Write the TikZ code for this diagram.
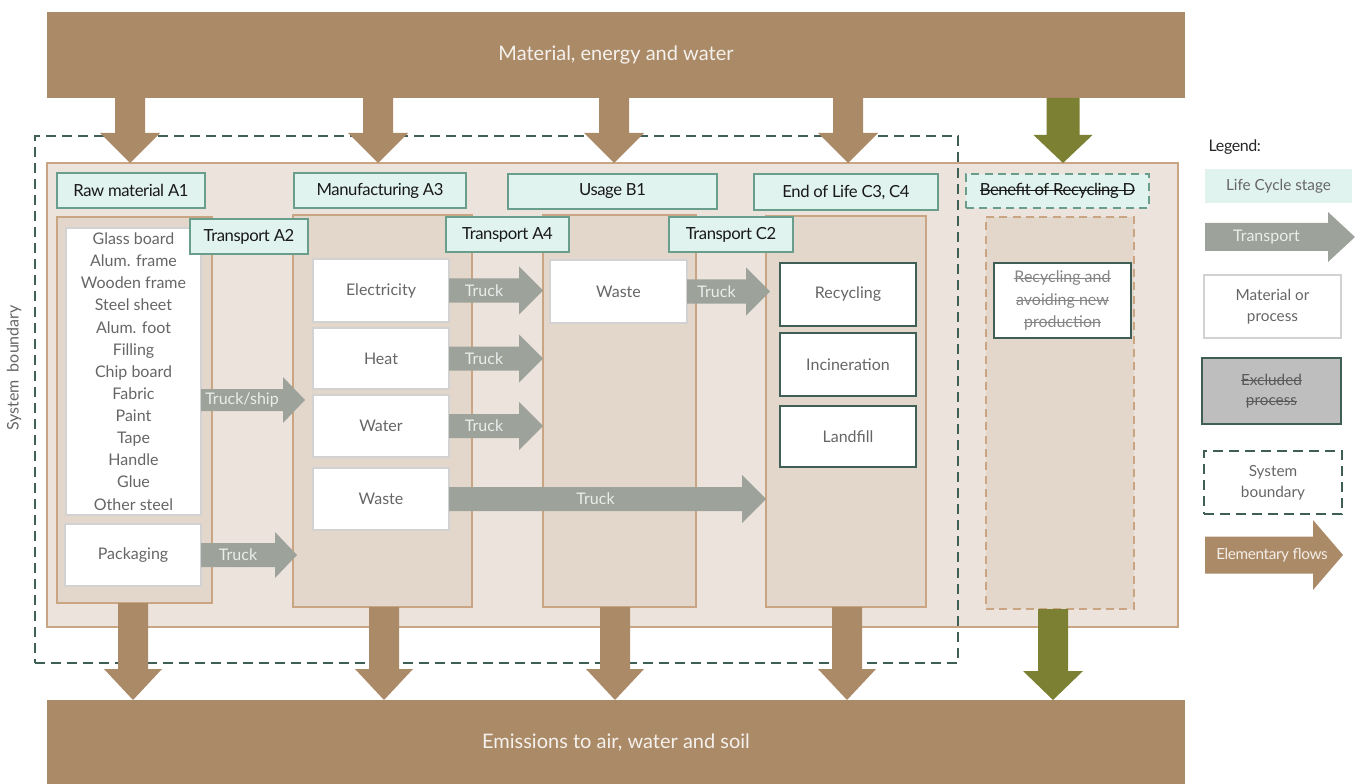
\documentclass[tikz,border=0pt]{standalone}
\usepackage{fontspec}
\setmainfont{Lato}
\newfontfamily\stagefont[LetterSpace=-2.5]{Lato}
\usetikzlibrary{calc}
\newsavebox\strkbox
\newcommand\mystrike[1]{\sbox\strkbox{#1}\rlap{\rule[0.28em]{\wd\strkbox}{0.5pt}}\usebox\strkbox}
\definecolor{brownc}{HTML}{AB8A67}
\definecolor{lightp}{HTML}{ECE3DC}
\definecolor{innerp}{HTML}{E3D7CB}
\definecolor{tanb}{HTML}{C9A583}
\definecolor{stagef}{HTML}{E1F3EE}
\definecolor{stageb}{HTML}{6A9E8C}
\definecolor{grayarr}{HTML}{9DA39B}
\definecolor{olive}{HTML}{7B8032}
\definecolor{darkteal}{HTML}{3F5E55}
\definecolor{textg}{HTML}{666666}
\definecolor{boxb}{HTML}{D2D2D2}
\definecolor{exclf}{HTML}{BEBEBE}
\newcommand\mybox[7]{\node[#6,minimum width={(#4-#2)*0.75pt},minimum height={(#5-#3)*0.75pt},inner sep=0pt,outer sep=0pt] (#1) at ({(#2+#4)/2},{(#3+#5)/2}) {#7};}
% horizontal block arrow: from #1 to #2, shaft half #3, head half #4, head length #5 (px), colour #6, label #7
\newcommand\harr[7]{\fill[#6] let \p1=(#1), \p2=(#2) in
 (\x1,{\y1+#3*0.75pt}) -- ({\x2-#5*0.75pt},{\y1+#3*0.75pt}) -- ({\x2-#5*0.75pt},{\y1+#4*0.75pt}) -- (\x2,\y1)
 -- ({\x2-#5*0.75pt},{\y1-#4*0.75pt}) -- ({\x2-#5*0.75pt},{\y1-#3*0.75pt}) -- (\x1,{\y1-#3*0.75pt}) -- cycle
 node[arrlabel] at ({(\x1+\x2-#5*0.75pt)/2},\y1) {#7};}
% downward block arrow
\newcommand\varr[6]{\fill[#6] let \p1=(#1), \p2=(#2) in
 ({\x1-#3*0.75pt},\y1) -- ({\x1-#3*0.75pt},{\y2+#5*0.75pt}) -- ({\x1-#4*0.75pt},{\y2+#5*0.75pt}) -- (\x1,\y2)
 -- ({\x1+#4*0.75pt},{\y2+#5*0.75pt}) -- ({\x1+#3*0.75pt},{\y2+#5*0.75pt}) -- ({\x1+#3*0.75pt},\y1) -- cycle;}
\begin{document}
\begin{tikzpicture}[x=0.75pt,y=-0.75pt,
  bar/.style={fill=brownc,text=white!88!brownc,font=\fontsize{15}{18}\selectfont},
  panel/.style={fill=innerp,draw=tanb,line width=1.1pt},
  outerpanel/.style={fill=lightp,draw=tanb,line width=1.1pt},
  wbox/.style={fill=white,draw=boxb,line width=1pt,text=textg,align=center,font=\fontsize{12}{16.6}\selectfont},
  ebox/.style={fill=white,draw=darkteal,line width=1.3pt,text=textg,align=center,font=\fontsize{12}{16.6}\selectfont},
  stagebox/.style={fill=stagef,draw=stageb,line width=1.1pt,text=black!90,font=\stagefont\fontsize{12.5}{14}\selectfont},
  arrlabel/.style={text=white!80!grayarr,font=\fontsize{12}{14}\selectfont},
  boundary/.style={draw=darkteal,line width=1.5pt,dash pattern=on 7.5pt off 4.5pt},
  legtext/.style={text=textg,align=center,font=\fontsize{11.5}{15.5}\selectfont}]
\useasboundingbox (0,0) rectangle (1363,784);

% bars
\mybox{topbar}{47}{12}{1185}{98}{bar}{Material, energy and water}
\mybox{botbar}{47}{700}{1185}{784}{bar}{Emissions to air, water and soil}

% background panel and boundary
\mybox{sysp}{47}{163}{1178}{627}{outerpanel}{}
\mybox{bound}{35}{136}{958}{663}{boundary}{}
\node[rotate=90,text=textg,font=\fontsize{12}{14}\selectfont] (sbl) at (14,368) {System\ \ boundary};

% stage panels
\mybox{rawp}{57}{217}{212}{603}{panel}{}
\mybox{manp}{293}{215}{472}{607}{panel}{}
\mybox{usep}{543}{215}{696}{607}{panel}{}
\mybox{eolp}{766}{216}{926}{607}{panel}{}
\mybox{dp}{986}{217}{1134}{609}{panel,dash pattern=on 6pt off 4pt}{}

% material / process boxes
\mybox{list}{66}{228}{201}{515}{wbox}{Glass board\\Alum. frame\\Wooden frame\\Steel sheet\\Alum. foot\\Filling\\Chip board\\Fabric\\Paint\\Tape\\Handle\\Glue\\Other steel}
\mybox{pack}{65}{524}{201}{586}{wbox}{Packaging}
\mybox{elec}{313}{259}{449}{322}{wbox}{Electricity}
\mybox{heat}{313}{328}{449}{389}{wbox}{Heat}
\mybox{water}{313}{395}{449}{457}{wbox}{Water}
\mybox{mwaste}{313}{468}{449}{530}{wbox}{Waste}
\mybox{uwaste}{550}{260}{687}{323}{wbox}{Waste}
\mybox{recyc}{780}{263}{916}{326}{ebox}{Recycling}
\mybox{incin}{780}{333}{916}{396}{ebox}{Incineration}
\mybox{landf}{780}{406}{916}{467}{ebox}{Landfill}
\mybox{drec}{994}{263}{1131}{338}{ebox,text=textg!80}{\mystrike{Recycling and}\\\mystrike{avoiding new}\\\mystrike{production}}

% stage labels
\mybox{sA1}{57}{173}{205}{208}{stagebox}{Raw material A1}
\mybox{sA3}{294}{173}{466}{208}{stagebox}{Manufacturing A3}
\mybox{sB1}{508}{174}{717}{209}{stagebox}{Usage B1}
\mybox{sC}{754}{174}{938}{210}{stagebox}{End of Life C3, C4}
\mybox{sA2}{190}{219}{308}{254}{stagebox}{Transport A2}
\mybox{sA4}{446}{217}{569}{252}{stagebox}{Transport A4}
\mybox{sC2}{669}{217}{793}{252}{stagebox}{Transport C2}
\mybox{sD}{966}{174}{1149}{208}{stagebox,dash pattern=on 6pt off 4pt}{\mystrike{Benefit of Recycling D}}

% elementary flow arrows (top)
\foreach \cx/\nm in {130/t1,378/t2,614/t3,848/t4,1063/t5}{\coordinate (\nm) at (\cx,0);}
\varr{topbar.south -| t1}{sysp.north -| t1}{15}{30}{30}{brownc}
\varr{topbar.south -| t2}{sysp.north -| t2}{15}{30}{30}{brownc}
\varr{topbar.south -| t3}{sysp.north -| t3}{15}{30}{30}{brownc}
\varr{topbar.south -| t4}{sysp.north -| t4}{15}{30}{30}{brownc}
\varr{topbar.south -| t5}{sysp.north -| t5}{16.5}{29.5}{28}{olive}

% elementary flow arrows (bottom)
\foreach \cx/\nm in {133/b1,384/b2,615/b3,847/b4,1053/b5}{\coordinate (\nm) at (\cx,0);}
\varr{rawp.south -| b1}{botbar.north -| b1}{15}{29}{31}{brownc}
\varr{manp.south -| b2}{botbar.north -| b2}{15}{29}{31}{brownc}
\varr{usep.south -| b3}{botbar.north -| b3}{15}{29}{31}{brownc}
\varr{eolp.south -| b4}{botbar.north -| b4}{15}{29}{31}{brownc}
\varr{dp.south -| b5}{botbar.north -| b5}{15}{30}{29}{olive}

% transport arrows
\coordinate (ts) at (201,400);
\coordinate (tsend) at (305,400);
\harr{ts}{tsend}{11}{23}{22}{grayarr}{Truck/ship}
\harr{pack.east}{$(pack.east -| manp.west)+(4,0)$}{12}{23}{22}{grayarr}{Truck}
\harr{elec.east}{elec.east -| usep.west}{12}{24}{24}{grayarr}{Truck}
\harr{heat.east}{heat.east -| usep.west}{12}{24}{24}{grayarr}{Truck}
\harr{water.east}{water.east -| usep.west}{12}{24}{24}{grayarr}{Truck}
\harr{mwaste.east}{mwaste.east -| eolp.west}{12}{24}{24}{grayarr}{Truck}
\harr{uwaste.east}{$(uwaste.east -| eolp.west)+(4,0)$}{12}{24}{24}{grayarr}{Truck}

% legend
\node[anchor=west,text=black!85,font=\stagefont\fontsize{12}{14}\selectfont] (leg) at (1204,147) {Legend:};
\mybox{lstage}{1205}{169}{1352}{203}{fill=stagef,legtext}{Life Cycle stage}
\coordinate (ltra) at (1205,237);
\coordinate (ltrb) at (1355,237);
\harr{ltra}{ltrb}{14}{25}{27}{grayarr}{Transport}
\mybox{lmat}{1204}{275}{1341}{338}{fill=white,draw=boxb,line width=1pt,legtext}{Material or\\process}
\mybox{lexc}{1202}{358}{1341}{424}{fill=exclf,draw=darkteal,line width=1.3pt,legtext,text=black!65}{\mystrike{Excluded}\\\mystrike{process}}
\mybox{lsys}{1204}{451}{1342}{514}{boundary,line width=1.2pt,legtext}{System\\boundary}
\coordinate (lefa) at (1205,555);
\coordinate (lefb) at (1343,555);
\harr{lefa}{lefb}{18.5}{35}{30}{brownc}{}
\node[text=white!85!brownc,font=\stagefont\fontsize{11.5}{13}\selectfont] (leflab) at (1272,555) {Elementary flows};
\end{tikzpicture}
\end{document}
